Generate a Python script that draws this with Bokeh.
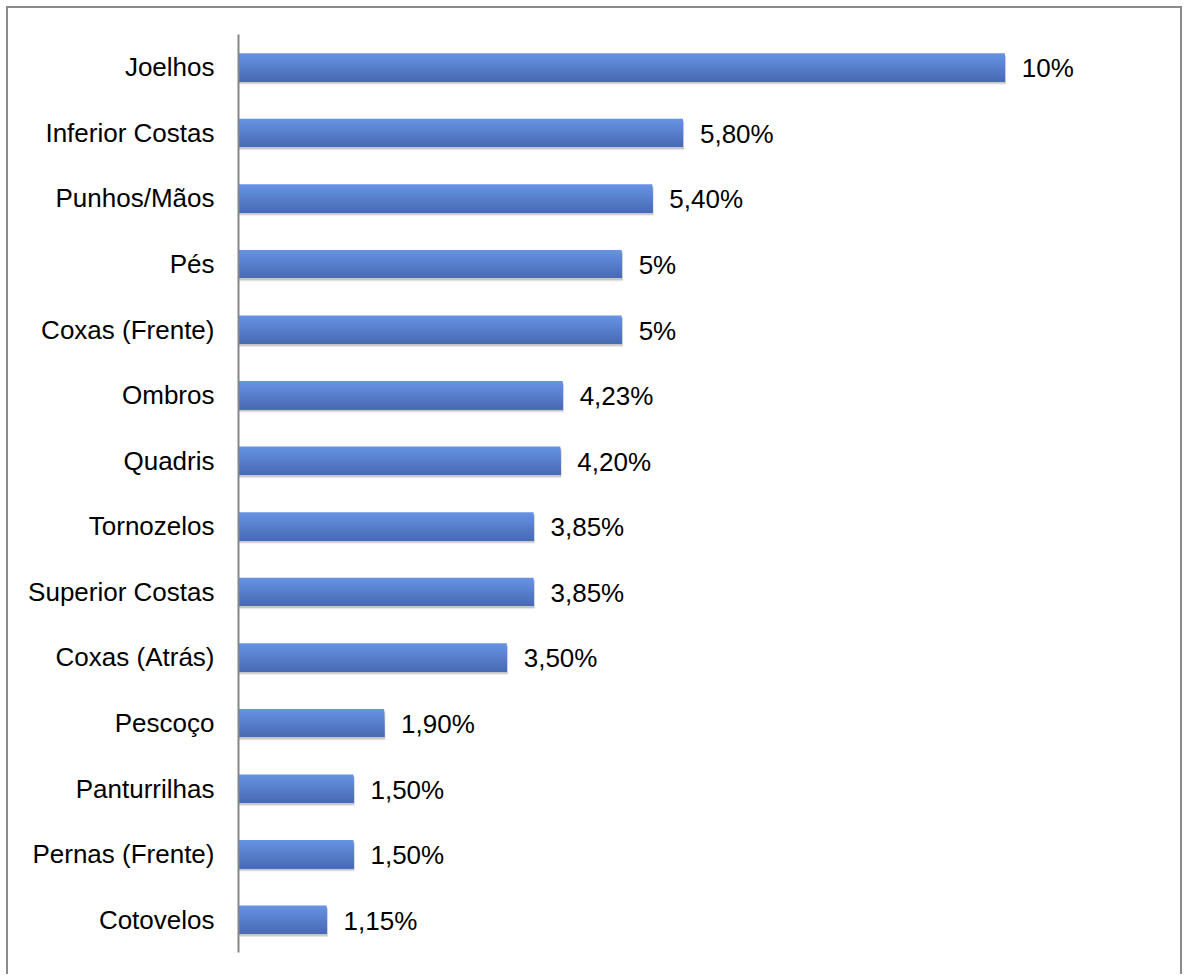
from bokeh.plotting import figure
from bokeh.models import ColumnDataSource, FactorRange, Range1d
from bokeh.transform import dodge
from bokeh.core.properties import value
from bokeh.embed import file_html
from bokeh.resources import INLINE

categories = ["Joelhos", "Inferior Costas", "Punhos/Mãos", "Pés", "Coxas (Frente)",
              "Ombros", "Quadris", "Tornozelos", "Superior Costas", "Coxas (Atrás)",
              "Pescoço", "Panturrilhas", "Pernas (Frente)", "Cotovelos"]
values = [10.0, 5.80, 5.40, 5.0, 5.0, 4.23, 4.20, 3.85, 3.85, 3.50, 1.90, 1.50, 1.50, 1.15]
labels = ["10%", "5,80%", "5,40%", "5%", "5%", "4,23%", "4,20%", "3,85%", "3,85%",
          "3,50%", "1,90%", "1,50%", "1,50%", "1,15%"]

FONT = "Liberation Sans"
FS = "26px"

src = ColumnDataSource(dict(cat=categories, val=values, lab=labels,
                            shadow_right=[v + 0.015 for v in values]))

p = figure(width=1176, height=968, output_backend="svg", toolbar_location=None,
           y_range=FactorRange(factors=categories[::-1]), x_range=Range1d(0, 12.28),
           min_border_left=230, min_border_right=5, min_border_top=26, min_border_bottom=24)
p.styles = {"border-top": "2px solid #8a8a8a", "border-left": "2px solid #8a8a8a",
            "border-right": "2px solid #8a8a8a", "margin-left": "6px", "margin-top": "6px"}

p.outline_line_color = None
p.xgrid.visible = False
p.ygrid.visible = False
p.xaxis.visible = False

ax = p.yaxis[0]
ax.axis_line_color = "#868686"
ax.axis_line_width = 2
ax.major_tick_line_color = None
ax.minor_tick_line_color = None
ax.major_label_standoff = 18
ax.major_label_text_font = FONT
ax.major_label_text_font_size = FS
ax.major_label_text_color = "#000000"

BAR_H = 0.43
# soft shadow below the bars
for dy, alpha in [(-0.05, 0.06), (-0.04, 0.08), (-0.03, 0.10)]:
    p.hbar(y=dodge("cat", dy, range=p.y_range), left=0, right="shadow_right", height=BAR_H,
           source=src, fill_color="#000000", fill_alpha=alpha, line_color=None)

# vertical gradient: overlapping strips, each from its top edge down to bar bottom
N = 20
top = (102, 146, 227)
bot = (73, 107, 179)
step = BAR_H / N
for i in range(N):
    t = i / (N - 1)
    c = tuple(int(round(top[k] + (bot[k] - top[k]) * t)) for k in range(3))
    hh = BAR_H - i * step
    off = -BAR_H / 2 + hh / 2
    p.hbar(y=dodge("cat", off, range=p.y_range), left=0, right="val", height=hh,
           source=src, fill_color="#%02x%02x%02x" % c, line_color=None)

p.text(x="val", y="cat", text="lab", source=src, x_offset=17, y_offset=1,
       text_baseline="middle", text_align="left", text_font=value(FONT),
       text_font_size=FS, text_color="#000000")

open("out.html", "w").write(file_html(p, INLINE))
